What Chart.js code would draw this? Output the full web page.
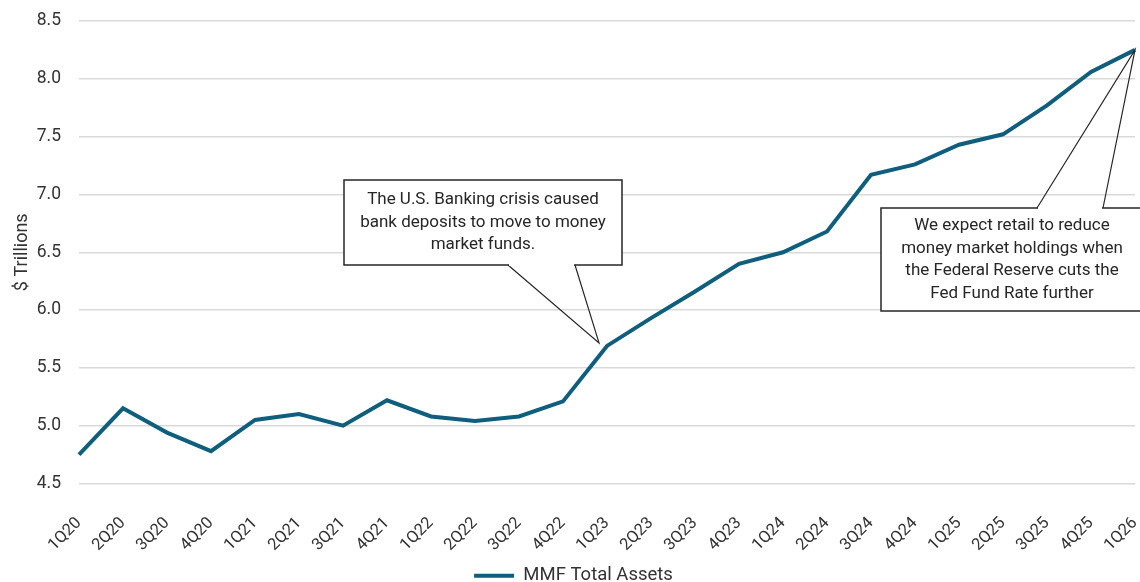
<!DOCTYPE html>
<html>
<head>
<meta charset="utf-8">
<script src="https://cdn.jsdelivr.net/npm/chart.js@4"></script>
<style>
  html, body { margin: 0; padding: 0; background: #fff; }
  #wrap { width: 1140px; height: 582px; }
</style>
</head>
<body>
<div id="wrap"><canvas id="line-chart" width="1140" height="582"></canvas></div>
<script>
// quarters and MMF total assets ($ trillions)
const quarters = ['1Q20','2Q20','3Q20','4Q20','1Q21','2Q21','3Q21','4Q21','1Q22','2Q22','3Q22','4Q22',
    '1Q23','2Q23','3Q23','4Q23','1Q24','2Q24','3Q24','4Q24','1Q25','2Q25','3Q25','4Q25','1Q26'];
const mmfAssets = [4.75, 5.15, 4.94, 4.78, 5.05, 5.10, 5.00, 5.22, 5.08, 5.04, 5.08, 5.21,
    5.69, 5.93, 6.16, 6.40, 6.50, 6.68, 7.17, 7.26, 7.43, 7.52, 7.77, 8.06, 8.25];
const yTicks = [4.5, 5.0, 5.5, 6.0, 6.5, 7.0, 7.5, 8.0, 8.5];

// callouts: text lines, box in px, pointer base x's on the box edge, data index the pointer aims at
const callouts = [
    { lines: ['The U.S. Banking crisis caused', 'bank deposits to move to money', 'market funds.'],
      box: [344, 180, 278, 85], edge: 'bottom', base: [508, 575], idx: 12, tipDx: -8, tipDy: -3 },
    { lines: ['We expect retail to reduce', 'money market holdings when', 'the Federal Reserve cuts the', 'Fed Fund Rate further'],
      box: [881, 208, 262, 103], edge: 'top', base: [1037, 1103], idx: 24, tipDx: 0, tipDy: 0 }
];

const lineColor = '#105e7d';
const fontFam = 'Roboto, "Liberation Sans", sans-serif';

const calloutPlugin = {
    id: 'callouts',
    afterDraw(chart) {
        const ctx = chart.ctx;
        const xs = chart.scales.x, ys = chart.scales.y;
        ctx.save();
        callouts.forEach(c => {
            const [bx, by, bw, bh] = c.box;
            const tx = xs.getPixelForValue(c.idx) + c.tipDx;
            const ty = ys.getPixelForValue(mmfAssets[c.idx]) + c.tipDy;
            const ey = c.edge === 'bottom' ? by + bh : by;
            ctx.fillStyle = '#fff';
            ctx.strokeStyle = '#262626';
            ctx.lineWidth = 1.5;
            ctx.fillRect(bx, by, bw, bh);
            ctx.strokeRect(bx, by, bw, bh);
            // pointer
            ctx.beginPath();
            ctx.moveTo(c.base[0], ey);
            ctx.lineTo(tx, ty);
            ctx.lineTo(c.base[1], ey);
            ctx.lineWidth = 1.2;
            ctx.stroke();
            ctx.fillStyle = '#fff';
            ctx.fillRect(c.base[0] + 1, ey - 1, c.base[1] - c.base[0] - 2, 2);
            ctx.fillStyle = '#262626';
            ctx.font = '17px ' + fontFam;
            ctx.textAlign = 'center';
            ctx.textBaseline = 'middle';
            const lh = 22.5;
            const cy = by + bh / 2 - (c.lines.length - 1) * lh / 2;
            c.lines.forEach((t, i) => ctx.fillText(t, bx + bw / 2, cy + i * lh));
        });
        ctx.restore();
    }
};

const priceChart = new Chart(document.getElementById('line-chart'), {
    type: 'line',
    data: {
        labels: quarters,
        datasets: [{
            label: 'MMF Total Assets',
            data: mmfAssets,
            borderColor: lineColor,
            backgroundColor: lineColor,
            borderWidth: 4,
            pointRadius: 0,
            pointStyle: 'line',
            tension: 0
        }]
    },
    options: {
        responsive: false,
        animation: false,
        layout: { padding: { top: 21, right: 5, left: 12, bottom: -13 } },
        plugins: {
            tooltip: { enabled: false },
            legend: {
                position: 'bottom',
                labels: {
                    usePointStyle: true,
                    pointStyleWidth: 40,
                    color: '#333',
                    font: { family: fontFam, size: 18.5 },
                    padding: 2
                }
            }
        },
        scales: {
            x: {
                offset: false,
                grid: { display: false },
                border: { display: false },
                ticks: {
                    maxRotation: 45, minRotation: 45, autoSkip: false,
                    color: '#333', font: { family: fontFam, size: 16.5 }, padding: 22
                },
                afterFit: (s) => { s.height = 81; s.paddingRight = 0; s.paddingLeft = 0; }
            },
            y: {
                min: 4.5, max: 8.5,
                afterBuildTicks: (s) => { s.ticks = yTicks.map(v => ({ value: v })); },
                grid: { color: '#d9d9d9', lineWidth: 1.5, drawTicks: false },
                border: { display: false },
                ticks: {
                    color: '#333', font: { family: fontFam, size: 17.5 }, padding: 18,
                    callback: (v) => v.toFixed(1)
                },
                title: {
                    display: true, text: '$ Trillions', color: '#333',
                    font: { family: fontFam, size: 18 }, padding: 0
                },
                afterFit: (s) => { s.width = 67; s.paddingTop = 0; s.paddingBottom = 0; }
            }
        }
    },
    plugins: [calloutPlugin]
});
</script>
</body>
</html>
